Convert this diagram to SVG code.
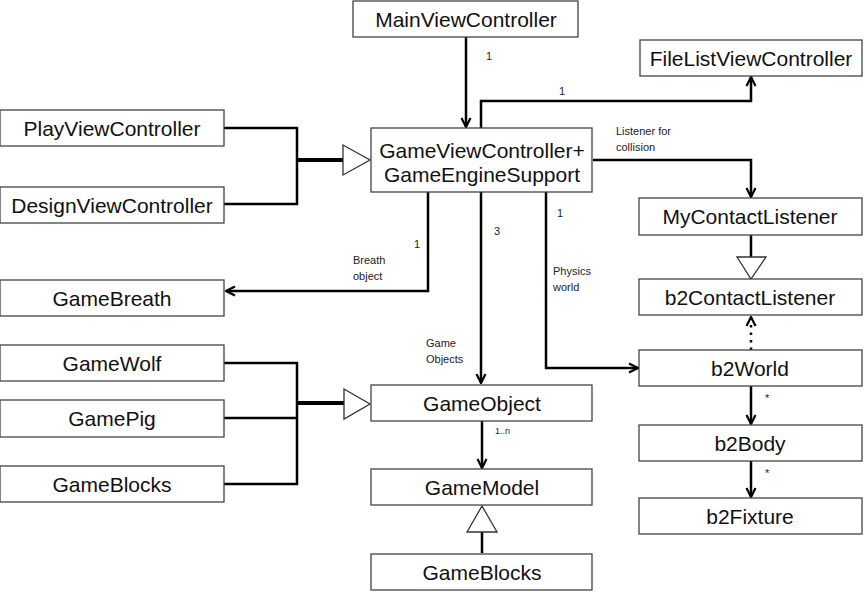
<svg xmlns="http://www.w3.org/2000/svg" width="865" height="592" viewBox="0 0 865 592">
<style>
.box{fill:#fff;stroke:#444;stroke-width:1.3}
.t{font-family:"Liberation Sans",Arial,sans-serif;font-size:21px;fill:#111;text-anchor:middle}
.s{font-family:"Liberation Sans",Arial,sans-serif;font-size:11px;fill:#222}
.c{fill:none;stroke:#000;stroke-width:2.5}
.g{fill:none;stroke:#000;stroke-width:2.5}
.gt{fill:none;stroke:#000;stroke-width:4}
.tri{fill:#fff;stroke:#333;stroke-width:1.3}
</style>
<defs>
<marker id="arr" viewBox="0 0 12 12" refX="11" refY="6" markerWidth="12" markerHeight="12" markerUnits="userSpaceOnUse" orient="auto">
<path d="M2,1.5 L11,6 L2,10.5" fill="none" stroke="#000" stroke-width="2.2"/>
</marker>
</defs>
<rect width="865" height="592" fill="#fff"/>
<g id="connectors">
<path class="c" d="M466,37 V127" marker-end="url(#arr)"/>
<path class="c" d="M481,128 V101 H751 V77" marker-end="url(#arr)"/>
<path class="c" d="M593,160 H751 V197" marker-end="url(#arr)"/>
<path class="c" d="M428,192 V291 H226" marker-end="url(#arr)"/>
<path class="c" d="M481,192 V383" marker-end="url(#arr)"/>
<path class="c" d="M546,192 V368 H638" marker-end="url(#arr)"/>
<path class="c" d="M751,386 V424" marker-end="url(#arr)"/>
<path class="c" d="M751,461 V497" marker-end="url(#arr)"/>
<path class="c" d="M482,421 V468" marker-end="url(#arr)"/>
<path class="c" d="M751,350 V317" stroke-dasharray="2.5 5" marker-end="url(#arr)"/>
<path class="g" d="M224,128 H297 V204 H224"/>
<path class="gt" d="M297,160 H343"/>
<polygon class="tri" points="343,145 370,160 343,175"/>
<path class="g" d="M224,363 H297 V484 H224 M224,418 H297"/>
<path class="gt" d="M297,403 H344"/>
<polygon class="tri" points="344,389 370,404 344,419"/>
<path class="c" d="M751,235 V257"/>
<polygon class="tri" points="737,257 766,257 751,279"/>
<path class="c" d="M482,553 V532"/>
<polygon class="tri" points="467,532 497,532 482,506"/>
</g>
<g id="labels">
<text class="s" x="486" y="60">1</text>
<text class="s" x="559" y="95">1</text>
<text class="s" x="616" y="135">Listener for</text>
<text class="s" x="616" y="151">collision</text>
<text class="s" x="414" y="248">1</text>
<text class="s" x="353" y="264">Breath</text>
<text class="s" x="353" y="280">object</text>
<text class="s" x="494" y="235">3</text>
<text class="s" x="557" y="217">1</text>
<text class="s" x="553" y="275">Physics</text>
<text class="s" x="553" y="291">world</text>
<text class="s" x="426" y="347">Game</text>
<text class="s" x="426" y="363">Objects</text>
<text class="s" x="495" y="434" style="font-size:9px">1..n</text>
<text class="s" x="765" y="402">*</text>
<text class="s" x="765" y="477">*</text>
</g>
<g id="MainViewController"><rect class="box" x="353" y="1" width="225" height="36"/><text class="t" x="466" y="27">MainViewController</text></g>
<g id="FileListViewController"><rect class="box" x="640" y="40" width="222" height="36"/><text class="t" x="751" y="66">FileListViewController</text></g>
<g id="GameViewController"><rect class="box" x="371" y="128" width="221" height="64"/><text class="t" x="482" y="158">GameViewController+</text><text class="t" x="482" y="182">GameEngineSupport</text></g>
<g id="PlayViewController"><rect class="box" x="0" y="110" width="224" height="36"/><text class="t" x="112" y="136">PlayViewController</text></g>
<g id="DesignViewController"><rect class="box" x="0" y="187" width="224" height="36"/><text class="t" x="112" y="213">DesignViewController</text></g>
<g id="GameBreath"><rect class="box" x="0" y="280" width="224" height="36"/><text class="t" x="112" y="306">GameBreath</text></g>
<g id="MyContactListener"><rect class="box" x="639" y="198" width="223" height="37"/><text class="t" x="750" y="224">MyContactListener</text></g>
<g id="b2ContactListener"><rect class="box" x="639" y="279" width="223" height="36"/><text class="t" x="750" y="305">b2ContactListener</text></g>
<g id="b2World"><rect class="box" x="639" y="350" width="223" height="36"/><text class="t" x="750" y="376">b2World</text></g>
<g id="b2Body"><rect class="box" x="639" y="425" width="223" height="36"/><text class="t" x="750" y="451">b2Body</text></g>
<g id="b2Fixture"><rect class="box" x="639" y="498" width="223" height="36"/><text class="t" x="750" y="524">b2Fixture</text></g>
<g id="GameWolf"><rect class="box" x="0" y="345" width="224" height="36"/><text class="t" x="112" y="371">GameWolf</text></g>
<g id="GamePig"><rect class="box" x="0" y="400" width="224" height="37"/><text class="t" x="112" y="426">GamePig</text></g>
<g id="GameBlocksLeft"><rect class="box" x="0" y="466" width="224" height="36"/><text class="t" x="112" y="492">GameBlocks</text></g>
<g id="GameObject"><rect class="box" x="371" y="385" width="221" height="36"/><text class="t" x="482" y="411">GameObject</text></g>
<g id="GameModel"><rect class="box" x="371" y="469" width="221" height="36"/><text class="t" x="482" y="495">GameModel</text></g>
<g id="GameBlocks"><rect class="box" x="371" y="554" width="221" height="36"/><text class="t" x="482" y="580">GameBlocks</text></g>
</svg>
